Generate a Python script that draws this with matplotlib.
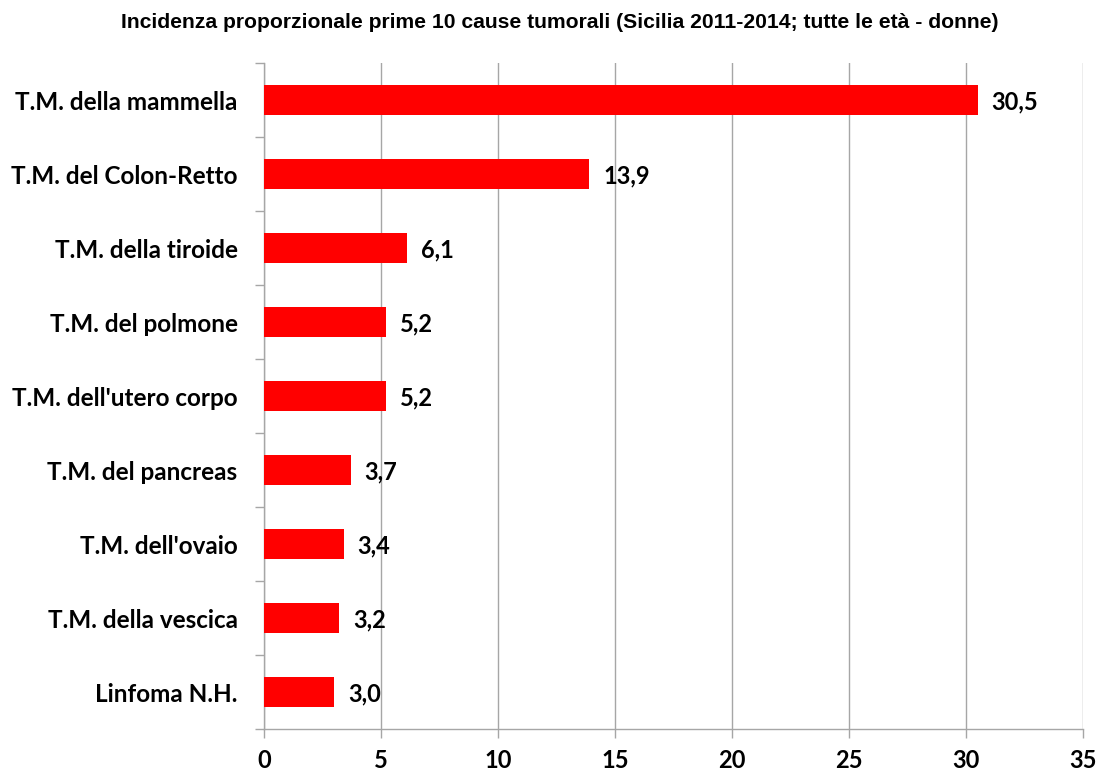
import matplotlib
matplotlib.use('Agg')
import matplotlib.pyplot as plt
from matplotlib.ticker import MultipleLocator, FixedLocator, NullFormatter

# Dati (Sicilia 2011-2014, donne)
categorie = [
    'T.M. della mammella',
    'T.M. del Colon-Retto',
    'T.M. della tiroide',
    'T.M. del polmone',
    "T.M. dell'utero corpo",
    'T.M. del pancreas',
    "T.M. dell'ovaio",
    'T.M. della vescica',
    'Linfoma N.H.',
]
valori = [30.5, 13.9, 6.1, 5.2, 5.2, 3.7, 3.4, 3.2, 3.0]
titolo = 'Incidenza proporzionale prime 10 cause tumorali (Sicilia 2011-2014; tutte le età - donne)'

fig = plt.figure(figsize=(10.98, 7.74), dpi=100)
ax = fig.add_axes([264 / 1098, 1 - 729 / 774, (1083 - 264) / 1098, (729 - 63) / 774])

pos = list(range(len(categorie)))
ax.barh(pos, valori, height=0.4, color='#ff0000', zorder=3)
ax.set_ylim(len(categorie) - 0.5, -0.5)
ax.set_xlim(0, 35)

ax.xaxis.set_major_locator(MultipleLocator(5))
ax.grid(axis='x', color='#a6a6a6', linewidth=1, zorder=0)

# tick categorie: etichette al centro, segni ai bordi
ax.set_yticks(pos)
ax.set_yticklabels(categorie, fontfamily='Lato', fontweight='bold', fontsize=17.5)
ax.yaxis.set_minor_locator(FixedLocator([p - 0.5 for p in pos] + [len(pos) - 0.5]))
ax.yaxis.set_minor_formatter(NullFormatter())
ax.tick_params(axis='y', which='major', length=0, pad=19)
ax.tick_params(axis='y', which='minor', length=6.5, color='#a6a6a6', width=1)
ax.tick_params(axis='x', length=6.5, color='#a6a6a6', width=1, pad=8)
for lab in ax.get_xticklabels():
    lab.set_fontfamily('Lato')
    lab.set_fontweight('bold')
    lab.set_fontsize(17)

for s in ['top', 'right']:
    ax.spines[s].set_visible(False)
for s in ['left', 'bottom']:
    ax.spines[s].set_color('#a6a6a6')
    ax.spines[s].set_linewidth(1)

for p, v in zip(pos, valori):
    ax.text(v + 0.6, p + 0.03, f'{v:.1f}'.replace('.', ','), va='center', ha='left',
            fontfamily='Lato', fontweight='bold', fontsize=17, zorder=4)

fig.text(560 / 1098, 1 - 22 / 774, titolo, ha='center', va='center',
         fontfamily='Liberation Sans', fontweight='bold', fontsize=15.2)

fig.savefig('out.png', dpi=100)
